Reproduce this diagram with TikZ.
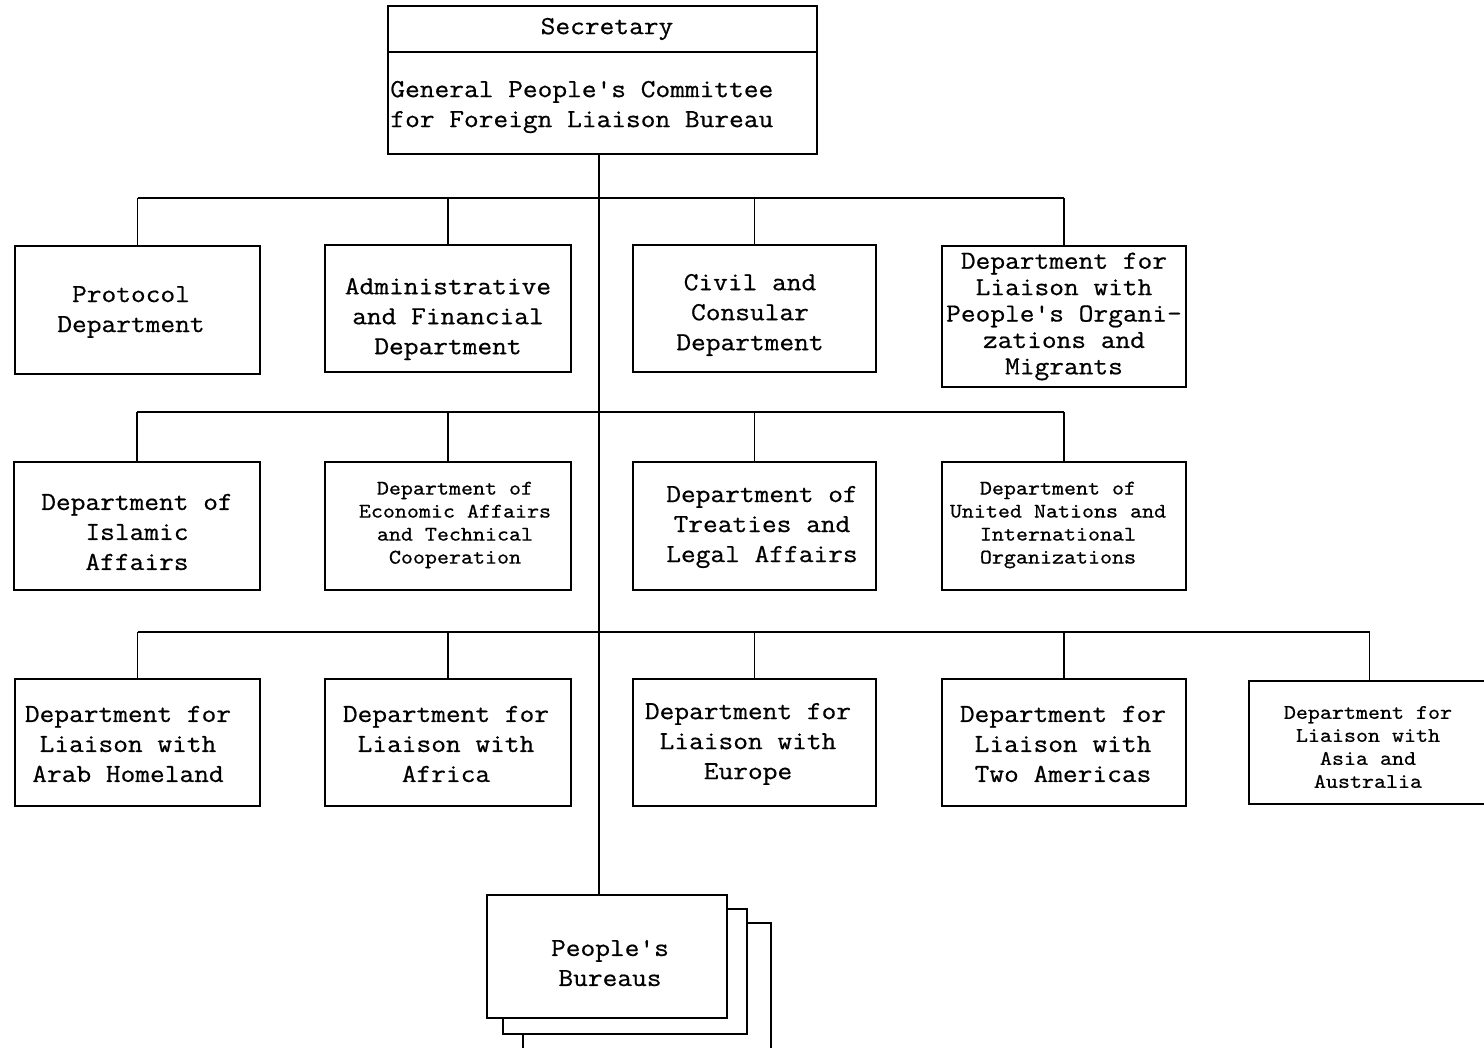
\documentclass[tikz,border=0pt]{standalone}
\usepackage{fontspec}
\setmonofont[FakeStretch=1.1,FakeBold=0.6]{Latin Modern Mono}
\begin{document}
\begin{tikzpicture}[x=0.5pt,y=-0.5pt,
  txt/.style={inner sep=0pt,align=center,font=\ttfamily\fontsize{13}{15}\selectfont},
  box/.style={draw,line width=1.2pt,fill=white,rectangle,inner sep=0pt,align=center,
    font=\ttfamily\fontsize{13}{15}\selectfont},
  tight/.style={font=\ttfamily\fontsize{13}{13.2}\selectfont},
  small/.style={font=\ttfamily\fontsize{10.4}{11.5}\selectfont},
  conn/.style={line width=0.8pt}]
\useasboundingbox (0,0) rectangle (1484,1048);
\clip (0,0) rectangle (1484,1048);
% top box
\node[box,minimum width=214.5pt,minimum height=74pt] (top) at (602.5,80) {};
\draw[line width=0.8pt] (top.west |- 0,52) -- (top.east |- 0,52);
\node[txt] (sec) at (607,29) {Secretary};
\node[txt,align=left,anchor=west] (gpc) at (390,107)
  {General People's Committee\\for Foreign Liaison Bureau};
% row 1
\node[box,minimum width=122.5pt,minimum height=64pt] (prot) at (137.5,310) {};
\node[txt] (prott) at (131,312) {Protocol\\Department};
\node[box,minimum width=123pt,minimum height=63.5pt] (adm) at (448,308.5) {};
\node[txt] (admt) at (448,319) {Administrative\\and Financial\\Department};
\node[box,minimum width=121.5pt,minimum height=63.5pt] (civ) at (754.5,308.5) {};
\node[txt] (civt) at (750,315) {Civil and\\Consular\\Department};
\node[box,tight,minimum width=122pt,minimum height=70.5pt] (peo) at (1064,316.5) {Department for\\Liaison with\\People's Organi-\\zations and\\Migrants};
% row 2
\node[box,minimum width=123pt,minimum height=64pt] (isl) at (137,526) {};
\node[txt] (islt) at (137,532) {Department of\\Islamic\\Affairs};
\node[box,small,minimum width=123pt,minimum height=64pt] (eco) at (448,526) {};
\node[txt,small] (ecot) at (455,525) {Department of\\Economic Affairs\\and Technical\\Cooperation};
\node[box,minimum width=121.5pt,minimum height=64pt] (tre) at (754.5,526) {};
\node[txt] (tret) at (762,527) {Department of\\Treaties and\\Legal Affairs};
\node[box,small,minimum width=122pt,minimum height=64pt] (un) at (1064,526) {};
\node[txt,small] (unt) at (1058,525) {Department of\\United Nations and\\International\\Organizations};
% row 3
\node[box,minimum width=122.5pt,minimum height=63.5pt] (arab) at (137.5,742.5) {};
\node[txt] (arabt) at (128,744) {Department for\\Liaison with\\Arab Homeland};
\node[box,minimum width=123pt,minimum height=63.5pt] (afr) at (448,742.5) {};
\node[txt] (afrt) at (446,744) {Department for\\Liaison with\\Africa};
\node[box,minimum width=121.5pt,minimum height=63.5pt] (eur) at (754.5,742.5) {};
\node[txt] (eurt) at (748,744) {Department for\\Liaison with\\Europe};
\node[box,minimum width=122pt,minimum height=63.5pt] (ame) at (1064,742.5) {};
\node[txt] (amet) at (1063,744) {Department for\\Liaison with\\Two Americas};
\node[box,small,minimum width=120.5pt,minimum height=61.5pt] (asia) at (1369.5,742.5) {};
\node[txt,small] (asiat) at (1368,747) {Department for\\Liaison with\\Asia and\\Australia};
% people's bureaus stack
\node[box,minimum width=124pt,minimum height=68.5pt] (pb3) at (647,991.5) {};
\node[box,minimum width=122pt,minimum height=62.5pt] (pb2) at (625,971.5) {};
\node[box,minimum width=120pt,minimum height=61.5pt] (pb) at (607,956.5) {};
\node[txt] (pbt) at (610,963) {People's\\Bureaus};
% connectors
\coordinate (trunk) at (599,0);
\coordinate (bus1) at (0,198);
\coordinate (bus2) at (0,412);
\coordinate (bus3) at (0,632);
\draw[conn] (top.south -| trunk) -- (pb.north -| trunk);
\draw[conn] (prot.north |- bus1) -- (peo.north |- bus1);
\foreach \n in {prot,adm,civ,peo} \draw[conn] (\n.north) -- (\n.north |- bus1);
\draw[conn] (isl.north |- bus2) -- (un.north |- bus2);
\foreach \n in {isl,eco,tre,un} \draw[conn] (\n.north) -- (\n.north |- bus2);
\draw[conn] (arab.north |- bus3) -- (asia.north |- bus3);
\foreach \n in {arab,afr,eur,ame,asia} \draw[conn] (\n.north) -- (\n.north |- bus3);
\end{tikzpicture}
\end{document}
